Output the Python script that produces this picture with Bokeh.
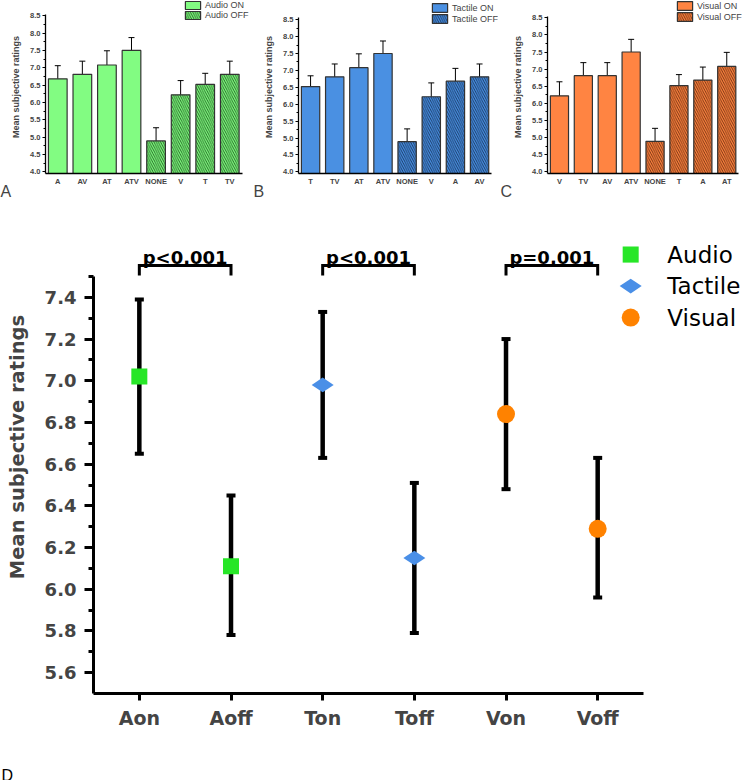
import math
from bokeh.plotting import figure
from bokeh.layouts import column, row
from bokeh.models import (ColumnDataSource, Whisker, TeeHead, FixedTicker, PrintfTickFormatter,
                          Legend, LegendItem, Title, Range1d)
from bokeh.embed import file_html
from bokeh.resources import INLINE
from bokeh.core.properties import value

# ---------------- data: panels A-C (per-condition ratings) ----------------
conditions = ["A", "AV", "AT", "ATV", "NONE", "V", "T", "TV"]
cond_mean = [6.68, 6.81, 7.08, 7.50, 4.89, 6.22, 6.52, 6.81]
cond_err = [0.38, 0.38, 0.41, 0.37, 0.38, 0.41, 0.32, 0.38]

order_audio = ["A", "AV", "AT", "ATV", "NONE", "V", "T", "TV"]
order_tactile = ["T", "TV", "AT", "ATV", "NONE", "V", "A", "AV"]
order_visual = ["V", "TV", "AV", "ATV", "NONE", "T", "A", "AT"]
n_on = 4  # first four bars of each panel are "ON"

small_ticks = [4.0, 4.5, 5.0, 5.5, 6.0, 6.5, 7.0, 7.5, 8.0, 8.5]
small_minor = [4.25, 4.75, 5.25, 5.75, 6.25, 6.75, 7.25, 7.75, 8.25]

# ---------------- data: panel D (modality on/off) ----------------
d_labels = ["Aon", "Aoff", "Ton", "Toff", "Von", "Voff"]
d_group = ["Audio", "Audio", "Tactile", "Tactile", "Visual", "Visual"]
d_mean = [7.02, 6.11, 6.98, 6.15, 6.84, 6.29]
d_lower = [6.65, 5.78, 6.63, 5.79, 6.48, 5.96]
d_upper = [7.39, 6.45, 7.33, 6.51, 7.20, 6.63]
p_pairs = [("Aon", "Aoff"), ("Ton", "Toff"), ("Von", "Voff")]
p_texts = ["p<0.001", "p<0.001", "p=0.001"]
d_ticks = [5.6, 5.8, 6.0, 6.2, 6.4, 6.6, 6.8, 7.0, 7.2, 7.4]
d_minor = [5.7, 5.9, 6.1, 6.3, 6.5, 6.7, 6.9, 7.1, 7.3, 7.5]

groups = ["Audio", "Tactile", "Visual"]

# ---------------- styles ----------------
SMALL_FONT = "Liberation Sans"
BIG_FONT = "DejaVu Sans"
bar_fill = {"Audio": "#82FC82", "Tactile": "#4A90E2", "Visual": "#FF8442"}
bar_hatch = {"Audio": "#1e5a1e", "Tactile": "#15325a", "Visual": "#6a2c0c"}
marker_color = {"Audio": "#27E627", "Tactile": "#4A8FE7", "Visual": "#FF8200"}
marker_kind = {"Audio": "square", "Tactile": "diamond", "Visual": "circle"}
marker_size = {"Audio": 16, "Tactile": 22, "Visual": 18}
marker_angle = {"Audio": 0.0, "Tactile": math.pi / 2, "Visual": 0.0}

TOP_H = 200
Y0, Y_AX_TOP = 3.95, 8.55

# geometry per small panel:
# width, border_left, px per category, frame_h, px per rating unit, legend loc, item_h, title offset
geo = {
    "Audio": (250, 45, 24.57, 173, 34.67, (138, 153), 10, -45),
    "Tactile": (248, 48, 24.14, 174, 34.0, (132, 149), 11, -45),
    "Visual": (250, 49, 23.9, 173, 34.22, (128, 151), 11, -47),
}


def small_panel(order, name, letter):
    width, bl, kx, fh, ky, leg_loc, item_h, t_off = geo[name]
    fw = width - bl
    means = [cond_mean[conditions.index(c)] for c in order]
    errs = [cond_err[conditions.index(c)] for c in order]
    xs = list(range(len(order)))
    p = figure(width=width, height=TOP_H,
               x_range=Range1d(-0.5, -0.5 + fw / kx), y_range=Range1d(Y0, Y0 + fh / ky),
               output_backend="svg", toolbar_location=None,
               min_border_left=bl, min_border_right=0,
               min_border_top=0, min_border_bottom=TOP_H - fh)
    p.outline_line_color = None
    p.grid.visible = False

    on_src = ColumnDataSource(dict(x=xs[:n_on], top=means[:n_on]))
    off_src = ColumnDataSource(dict(x=xs[n_on:], top=means[n_on:]))
    r_on = p.vbar(x="x", top="top", bottom=0, width=0.76, source=on_src,
                  fill_color=bar_fill[name], line_color="#333333", line_width=1.2)
    r_off = p.vbar(x="x", top="top", bottom=0, width=0.76, source=off_src,
                   fill_color=bar_fill[name], line_color="#333333", line_width=1.2,
                   hatch_pattern="\\", hatch_color=bar_hatch[name], hatch_scale=4.5,
                   hatch_weight=0.9)

    err_src = ColumnDataSource(dict(x=xs, upper=[m + e for m, e in zip(means, errs)],
                                    lower=[m - e for m, e in zip(means, errs)]))
    p.add_layout(Whisker(base="x", upper="upper", lower="lower", source=err_src,
                         line_color="black", line_width=1,
                         upper_head=TeeHead(size=6, line_width=1, line_color="black"),
                         lower_head=TeeHead(size=6, line_width=1, line_color="black")))

    leg = Legend(items=[LegendItem(label=f"{name} ON", renderers=[r_on]),
                        LegendItem(label=f"{name} OFF", renderers=[r_off])],
                 location=leg_loc, glyph_width=19, glyph_height=item_h,
                 label_height=item_h, spacing=0, padding=0, margin=0,
                 label_standoff=3, border_line_color=None, background_fill_alpha=0,
                 label_text_font=SMALL_FONT, label_text_font_size="9px")
    p.add_layout(leg)

    ya = p.yaxis[0]
    ya.ticker = FixedTicker(ticks=small_ticks, minor_ticks=small_minor)
    ya.formatter = PrintfTickFormatter(format="%.1f")
    ya.bounds = (Y0, Y_AX_TOP)
    ya.axis_label = "Mean subjective ratings"
    ya.axis_label_text_font = SMALL_FONT
    ya.axis_label_text_font_size = "9px"
    ya.axis_label_text_font_style = "bold"
    ya.axis_label_standoff = 6
    ya.major_label_text_font = SMALL_FONT
    ya.major_label_text_font_size = "7.5px"
    ya.major_label_text_font_style = "bold"
    ya.major_label_standoff = 2
    ya.major_tick_out = 3
    ya.major_tick_in = 0
    ya.minor_tick_out = 2
    ya.minor_tick_in = 0
    ya.axis_line_width = 1.3

    xa = p.xaxis[0]
    xa.ticker = FixedTicker(ticks=xs, minor_ticks=[])
    xa.major_label_overrides = {i: c for i, c in zip(xs, order)}
    xa.bounds = (-0.5, len(order) - 0.5)
    xa.major_tick_out = 0
    xa.major_tick_in = 0
    xa.major_tick_line_color = None
    xa.major_label_text_font = SMALL_FONT
    xa.major_label_text_font_size = "7.5px"
    xa.major_label_text_font_style = "bold"
    xa.major_label_standoff = 3
    xa.axis_line_width = 1.3

    p.add_layout(Title(text=letter, align="left", offset=t_off, standoff=-16,
                       text_font=SMALL_FONT, text_font_size="16px",
                       text_font_style="normal"), "below")
    return p


pA = small_panel(order_audio, "Audio", "A")
pB = small_panel(order_tactile, "Tactile", "B")
pC = small_panel(order_visual, "Visual", "C")

# ---------------- panel D ----------------
D_W, D_H = 748, 560
D_BL, D_KX = 93, 91.67          # left border, px per category
D_FH, D_KY = 493, 208.5         # frame height, px per rating unit
D_Y0, D_Y_AX_TOP = 5.5, 7.5
d_x = list(range(len(d_labels)))
pD = figure(width=D_W, height=D_H,
            x_range=Range1d(-0.5, -0.5 + (D_W - D_BL) / D_KX),
            y_range=Range1d(D_Y0, D_Y0 + D_FH / D_KY),
            output_backend="svg", toolbar_location=None,
            min_border_left=D_BL, min_border_right=0,
            min_border_top=0, min_border_bottom=D_H - D_FH)
pD.outline_line_color = None
pD.grid.visible = False

w_src = ColumnDataSource(dict(x=d_x, upper=d_upper, lower=d_lower))
pD.add_layout(Whisker(base="x", upper="upper", lower="lower", source=w_src, level="underlay",
                      line_color="black", line_width=4.5,
                      upper_head=TeeHead(size=9, line_width=4, line_color="black"),
                      lower_head=TeeHead(size=9, line_width=4, line_color="black")))

for g in groups:
    idx = [i for i, gg in enumerate(d_group) if gg == g]
    src = ColumnDataSource(dict(x=[d_x[i] for i in idx], y=[d_mean[i] for i in idx]))
    pD.scatter(x="x", y="y", source=src, marker=marker_kind[g], size=marker_size[g],
               angle=marker_angle[g], fill_color=marker_color[g], line_color=None)

# significance brackets
BR_TOP, BR_LEG, TXT_Y = 7.553, 7.505, 7.59
for (a, b), t in zip(p_pairs, p_texts):
    xa = d_labels.index(a)
    xb = d_labels.index(b)
    pD.line(x=[xa, xa, xb, xb], y=[BR_LEG, BR_TOP, BR_TOP, BR_LEG], line_color="black",
            line_width=3, line_join="miter")
    pD.text(x=[(xa + xb) / 2], y=[TXT_Y], text=[t], text_align="center",
            text_baseline="alphabetic", text_font=value(BIG_FONT), text_font_size="18px",
            text_font_style="bold", text_color="black")

# legend keys (drawn inside the frame, to the right of the last category)
LEG_KEY_X = len(d_labels) - 1 + 0.36
LEG_TXT_X = len(d_labels) - 1 + 0.76
LEG_Y_TOP, LEG_DY = 7.605, 0.151
for k, g in enumerate(groups):
    ly = LEG_Y_TOP - k * LEG_DY
    pD.scatter(x=[LEG_KEY_X], y=[ly], marker=marker_kind[g], size=marker_size[g],
               angle=marker_angle[g], fill_color=marker_color[g], line_color=None)
    pD.text(x=[LEG_TXT_X], y=[ly], text=[g], text_align="left", text_baseline="middle",
            text_font=value(BIG_FONT), text_font_size="23px", text_color="black")

ya = pD.yaxis[0]
ya.ticker = FixedTicker(ticks=d_ticks, minor_ticks=d_minor)
ya.formatter = PrintfTickFormatter(format="%.1f")
ya.bounds = (D_Y0, D_Y_AX_TOP)
ya.axis_label = "Mean subjective ratings"
ya.axis_label_text_font = BIG_FONT
ya.axis_label_text_font_size = "19.5px"
ya.axis_label_text_font_style = "bold"
ya.axis_label_standoff = 13
ya.major_label_text_font = BIG_FONT
ya.major_label_text_font_size = "18px"
ya.major_label_text_font_style = "bold"
ya.major_label_standoff = 8
ya.major_tick_out = 9
ya.major_tick_in = 0
ya.major_tick_line_width = 3
ya.minor_tick_out = 5
ya.minor_tick_in = 0
ya.minor_tick_line_width = 3
ya.axis_line_width = 3

xa = pD.xaxis[0]
xa.ticker = FixedTicker(ticks=d_x, minor_ticks=[])
xa.major_label_overrides = {i: c for i, c in zip(d_x, d_labels)}
xa.bounds = (-0.5, len(d_labels) - 0.5)
xa.major_tick_out = 7
xa.major_tick_in = 0
xa.major_tick_line_width = 3
xa.major_label_text_font = BIG_FONT
xa.major_label_text_font_size = "19px"
xa.major_label_text_font_style = "bold"
xa.major_label_standoff = 6
xa.axis_line_width = 3

# strip under panel D carrying the panel letter (wrapped in a row so its frame
# is not aligned with panel D's frame)
STRIP_H = 20
pL = figure(width=D_W, height=STRIP_H, x_range=Range1d(0, D_W), y_range=Range1d(0, STRIP_H),
            x_axis_type=None, y_axis_type=None, output_backend="svg", toolbar_location=None,
            min_border_left=0, min_border_right=0, min_border_top=0, min_border_bottom=0)
pL.outline_line_color = None
pL.grid.visible = False
pL.text(x=[1], y=[5], text=["D"], text_align="left", text_baseline="alphabetic",
        text_font=value(SMALL_FONT), text_font_size="16px", text_color="black")

layout = column(row(pA, pB, pC), pD, row(pL))
open("out.html", "w").write(file_html(layout, INLINE))
